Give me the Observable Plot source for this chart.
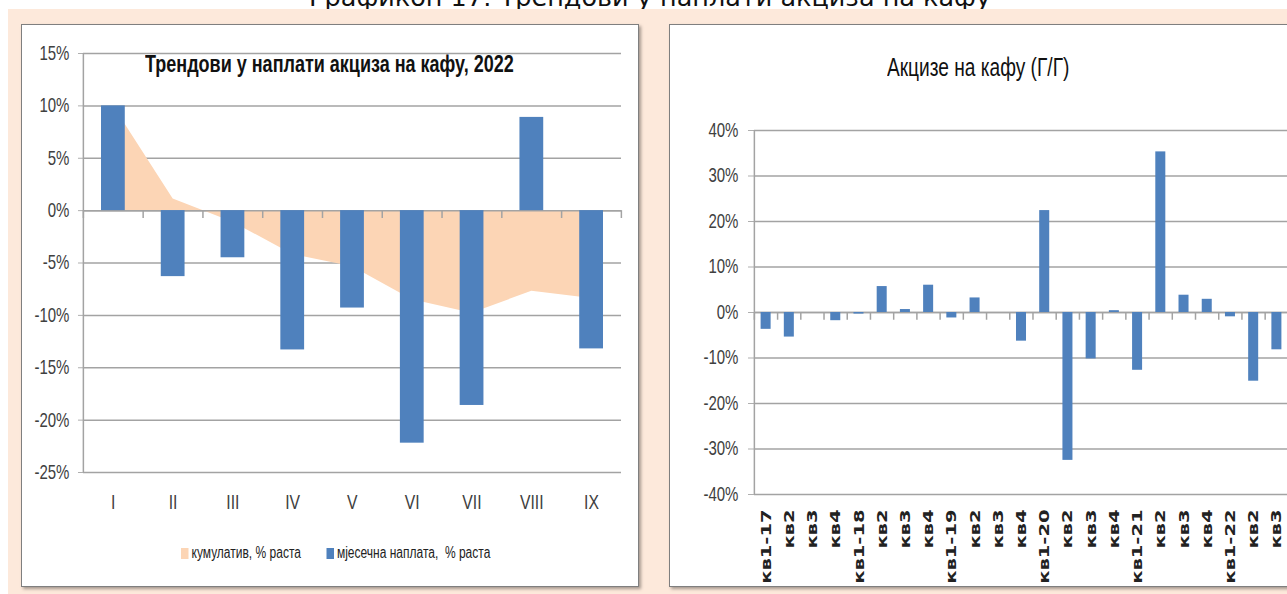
<!DOCTYPE html>
<html>
<head>
<meta charset="utf-8">
<script src="https://cdn.jsdelivr.net/npm/d3@7"></script>
<script src="https://cdn.jsdelivr.net/npm/@observablehq/plot@0.6"></script>
<style>
  html, body { margin: 0; padding: 0; background: #fff; }
  #page { position: relative; width: 1287px; height: 594px; overflow: hidden; background: #fff; }
  #topTitle { position: absolute; left: 0; width: 1300px; top: -15px; line-height: 25px; text-align: center;
    font-family: "DejaVu Sans", sans-serif; font-size: 25.5px; color: #111; z-index: 0; }
  #peach { position: absolute; left: 8px; top: 9px; width: 1300px; height: 600px; background: #fde9db; z-index: 1; }
  .panel { position: absolute; top: 24px; height: 563px; background: #fff; box-sizing: border-box;
    border: 1px solid #7f7f7f; box-shadow: 2px 2px 3px rgba(0,0,0,0.35); z-index: 2; }
  .chart { position: absolute; z-index: 3; }
  .ttl { position: absolute; z-index: 4; font-family: "Liberation Sans", Arial, sans-serif; color: #111;
    white-space: nowrap; transform: scaleX(0.75); transform-origin: 0 0; }
  #legend { position: absolute; left: 181px; top: 544px; z-index: 4; display: flex; align-items: center;
    font-family: "Liberation Sans", Arial, sans-serif; font-size: 16px; color: #222;
    transform: scaleX(0.75); transform-origin: 0 0; white-space: nowrap; }
  .sw { display: inline-block; width: 10px; height: 11px; margin-right: 4px; }
</style>
</head>
<body>
<div id="page">
  <div id="topTitle">Графикон 17: Трендови у наплати акциза на кафу</div>
  <div id="peach"></div>
  <div class="panel" style="left:21px; width:618px;"></div>
  <div class="panel" style="left:669px; width:660px;"></div>
  <div id="left" class="chart" style="left:21px; top:24px;"></div>
  <div id="right" class="chart" style="left:669px; top:24px;"></div>
  <div class="ttl" style="left:145px; top:50px; font-size:24px; font-weight:bold;">Трендови у наплати акциза на кафу, 2022</div>
  <div class="ttl" style="left:887px; top:53px; font-size:25.5px;">Акцизе на кафу (Г/Г)</div>
  <div id="legend">
    <span class="sw" style="background:#fcd5b5"></span><span>кумулатив, % раста</span>
    <span class="sw" style="background:#4f81bd; margin-left:34px"></span><span>мјесечна наплата,&nbsp; % раста</span>
  </div>
</div>
<script>
// ---- Left chart data ----
const months = ["I", "II", "III", "IV", "V", "VI", "VII", "VIII", "IX"];
const monthly = [10.0, -6.3, -4.5, -13.3, -9.3, -22.2, -18.6, 8.9, -13.2];
const cumulative = [10.0, 1.1, -1.1, -4.2, -5.35, -8.5, -9.8, -7.7, -8.4];
const leftTicks = [-25, -20, -15, -10, -5, 0, 5, 10, 15];

// ---- Right chart data ----
const quarters = ["кв1-17", "кв2", "кв3", "кв4", "кв1-18", "кв2", "кв3", "кв4", "кв1-19", "кв2", "кв3", "кв4",
  "кв1-20", "кв2", "кв3", "кв4", "кв1-21", "кв2", "кв3", "кв4", "кв1-22", "кв2", "кв3"];
const yoy = [-3.7, -5.4, 0, -1.8, -0.35, 5.7, 0.65, 6.0, -1.2, 3.2, 0, -6.3,
  22.4, -32.5, -10.2, 0.4, -12.7, 35.3, 3.8, 2.9, -0.95, -15.1, -8.2];
const rightTicks = [-40, -30, -20, -10, 0, 10, 20, 30, 40];

const BAR = "#4f81bd", AREA = "#fcd5b5", GRID = "#a3a3a3";
const FONT = "'Liberation Sans', Arial, sans-serif";
const S = 0.75; // horizontal compression of the whole picture (the reference is squeezed sideways)
const pct = d => (d < 0 ? "-" + Math.abs(d) : String(d)) + "%";

function squeeze(svg, cssW, h) {
  svg.setAttribute("preserveAspectRatio", "none");
  svg.setAttribute("width", cssW);
  svg.style.width = cssW + "px";
  svg.style.height = h + "px";
  svg.style.maxWidth = "none";
  return svg;
}

const mIdx = months.map((d, i) => i);
const LW = 617, LH = 490;
const left = Plot.plot({
  width: LW / S, height: LH,
  marginLeft: 62 / S, marginRight: 17 / S, marginTop: 29, marginBottom: 42,
  style: { fontFamily: FONT, color: "#404040", background: "transparent" },
  x: { type: "linear", domain: [0, months.length], axis: null },
  y: { domain: [-25, 15], axis: null },
  marks: [
    Plot.gridY(leftTicks, { stroke: GRID, strokeOpacity: 1, strokeWidth: 1.5 }),
    Plot.axisY(leftTicks, { tickFormat: pct, tickSize: 5 / S, tickPadding: 9 / S, fontSize: 20, stroke: GRID, label: null }),
    Plot.areaY(mIdx, { x: i => i + 0.5, y: i => cumulative[i], fill: AREA }),
    Plot.ruleY([0], { stroke: GRID, strokeWidth: 1.5 }),
    Plot.ruleX(d3.range(months.length + 1), { y1: 0, y2: -0.75, stroke: GRID, strokeWidth: 2 }),
    Plot.ruleX([0], { y1: -25, y2: 15, stroke: GRID, strokeWidth: 2 }),
    Plot.rectY(mIdx, { x1: i => i, x2: i => i + 1, y: i => monthly[i], fill: BAR, insetLeft: 18 / S, insetRight: 18 / S }),
    Plot.axisX(mIdx.map(i => i + 0.5), { tickFormat: d => months[Math.floor(d)], tickSize: 0, tickPadding: 22, fontSize: 21, label: null })
  ]
});
document.getElementById("left").appendChild(squeeze(left, LW, LH));

const qIdx = quarters.map((d, i) => i);
const RW = 640, RH = 563;
const right = Plot.plot({
  width: RW / S, height: RH,
  marginLeft: 85 / S, marginRight: 21 / S, marginTop: 106, marginBottom: 93,
  style: { fontFamily: FONT, color: "#404040", background: "transparent" },
  x: { type: "linear", domain: [0, quarters.length], axis: null },
  y: { domain: [-40, 40], axis: null },
  marks: [
    Plot.gridY(rightTicks, { stroke: GRID, strokeOpacity: 1, strokeWidth: 1.5 }),
    Plot.axisY(rightTicks, { tickFormat: pct, tickSize: 6 / S, tickPadding: 10 / S, fontSize: 20, stroke: GRID, label: null }),
    Plot.ruleY([0], { stroke: GRID, strokeWidth: 1.5 }),
    Plot.ruleX(d3.range(quarters.length + 1), { y1: 0, y2: -1.7, stroke: GRID, strokeWidth: 2 }),
    Plot.ruleX([0], { y1: -40, y2: 40, stroke: GRID, strokeWidth: 2 }),
    Plot.rectY(qIdx, { x1: i => i, x2: i => i + 1, y: i => yoy[i], fill: BAR, insetLeft: 6.6 / S, insetRight: 6.6 / S }),
    Plot.axisX(qIdx.map(i => i + 0.5), { tickFormat: d => quarters[Math.floor(d)], tickRotate: -90, tickSize: 0, tickPadding: 15,
      fontSize: 19.5, fontWeight: "bold", fontFamily: "'DejaVu Sans', sans-serif", fill: "#222", label: null })
  ]
});
document.getElementById("right").appendChild(squeeze(right, RW, RH));
</script>
</body>
</html>
